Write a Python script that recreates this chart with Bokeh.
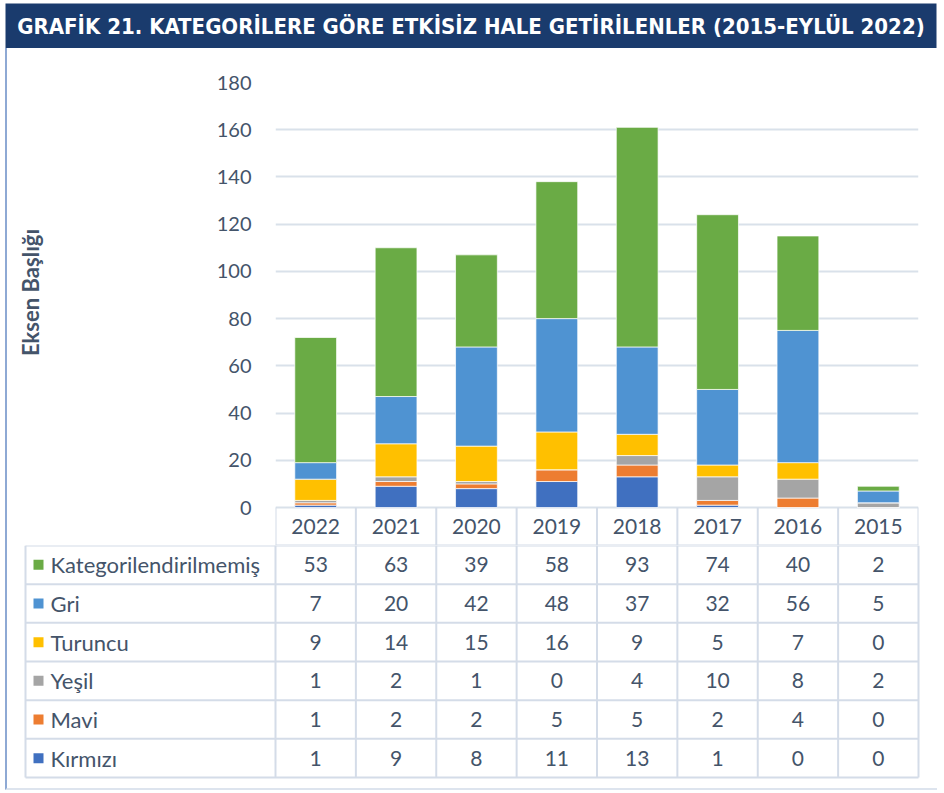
import math
from bokeh.plotting import figure
from bokeh.models import ColumnDataSource, Range1d, FactorRange, FixedTicker, Spacer
from bokeh.layouts import column, row
from bokeh.core.properties import value
from bokeh.embed import file_html
from bokeh.resources import INLINE

# ---------------- data ----------------
title_text = "GRAFİK 21. KATEGORİLERE GÖRE ETKİSİZ HALE GETİRİLENLER (2015-EYLÜL 2022)"
y_axis_title = "Eksen Başlığı"
years = ["2022", "2021", "2020", "2019", "2018", "2017", "2016", "2015"]
series_names = ["Kategorilendirilmemiş", "Gri", "Turuncu", "Yeşil", "Mavi", "Kırmızı"]
kategorilendirilmemis = [53, 63, 39, 58, 93, 74, 40, 2]
gri = [7, 20, 42, 48, 37, 32, 56, 5]
turuncu = [9, 14, 15, 16, 9, 5, 7, 0]
yesil = [1, 2, 1, 0, 4, 10, 8, 2]
mavi = [1, 2, 2, 5, 5, 2, 4, 0]
kirmizi = [1, 9, 8, 11, 13, 1, 0, 0]
y_ticks = [0, 20, 40, 60, 80, 100, 120, 140, 160, 180]

# ---------------- styles ----------------
NAVY = "#1a3b6d"
TXT = "#44546a"
FONT = "Lato"
GRID = "#d9e1ea"
TABLE_LINE = "#d4dce8"
series_keys = ["kategorilendirilmemis", "gri", "turuncu", "yesil", "mavi", "kirmizi"]
series_values = [kategorilendirilmemis, gri, turuncu, yesil, mavi, kirmizi]
series_colors = ["#6aab45", "#4f93d2", "#ffc000", "#a5a5a5", "#ed7d31", "#4070c0"]

# ---------------- title bar ----------------
tf = figure(width=940, height=48, x_range=Range1d(0, 1), y_range=Range1d(0, 1),
            x_axis_location=None, y_axis_location=None,
            min_border_left=5, min_border_right=4, min_border_top=3, min_border_bottom=0,
            output_backend="svg", toolbar_location=None)
tf.frame_align = False
tf.grid.visible = False
tf.outline_line_color = None
tf.background_fill_color = NAVY
tf.border_fill_color = "white"
tf.text(x=[0.5], y=[0.5], text=[title_text], text_align="center", text_baseline="middle",
        text_color="white", text_font=value("DejaVu Sans Condensed"), text_font_style="bold",
        text_font_size="22px")

# ---------------- chart ----------------
LABEL_W = 40
FRAME_LEFT = 268
FRAME_RIGHT_PAD = 19
CHART_W = 930
FRAME_W = CHART_W - FRAME_LEFT - FRAME_RIGHT_PAD
PX_PER_UNIT = 425 / 180
HEADER_H = 38
CHART_H = 34 + 425 + HEADER_H
Y_MIN = -HEADER_H / PX_PER_UNIT
ncol = len(years)

# y-axis title panel
lf = figure(width=LABEL_W, height=CHART_H, x_range=Range1d(0, LABEL_W), y_range=Range1d(CHART_H, 0),
            x_axis_location=None, y_axis_location=None, min_border=0,
            output_backend="svg", toolbar_location=None)
lf.frame_align = False
lf.grid.visible = False
lf.outline_line_color = None
lf.text(x=[23], y=[244], text=[y_axis_title], angle=math.pi / 2, text_align="center",
        text_baseline="middle", text_font=value(FONT), text_font_size="22px",
        text_font_style="bold", text_color=TXT)

src_data = {"year": years}
for k, v in zip(series_keys, series_values):
    src_data[k] = v
src = ColumnDataSource(src_data)

cf = figure(width=CHART_W - LABEL_W, height=CHART_H, x_range=FactorRange(factors=years),
            y_range=Range1d(Y_MIN, 180),
            x_axis_location=None, min_border_left=FRAME_LEFT - LABEL_W,
            min_border_right=FRAME_RIGHT_PAD, min_border_top=34, min_border_bottom=0,
            output_backend="svg", toolbar_location=None)
cf.frame_align = False
cf.outline_line_color = None
cf.xgrid.visible = False
cf.ygrid.grid_line_color = GRID
cf.ygrid.grid_line_width = 2
ya = cf.yaxis[0]
ya.ticker = FixedTicker(ticks=y_ticks)
ya.axis_line_color = None
ya.major_tick_line_color = None
ya.minor_tick_line_color = None
ya.major_label_text_font = FONT
ya.major_label_text_font_size = "20px"
ya.major_label_text_color = TXT
ya.major_label_standoff = 18

stack_order = series_keys[::-1]
color_order = series_colors[::-1]
cf.vbar_stack(stack_order, x="year", width=0.52, fill_color=color_order,
              line_color="white", line_alpha=0.7, line_width=1, source=src)

# header row of the table (years) inside the chart frame, below the zero line
bounds = [(y, -0.5) for y in years] + [(years[-1], 0.5)]
cf.segment(x0=bounds, y0=[Y_MIN] * len(bounds), x1=bounds, y1=[0] * len(bounds),
           line_color=TABLE_LINE, line_width=2)
cf.segment(x0=[bounds[0]], y0=[Y_MIN], x1=[bounds[-1]], y1=[Y_MIN],
           line_color=TABLE_LINE, line_width=2)
cf.text(x=years, y=[Y_MIN / 2] * ncol, text=years, text_align="center", text_baseline="middle",
        text_font=value(FONT), text_font_size="21px", text_color=TXT)

# ---------------- table ----------------
COLW = FRAME_W / ncol
ROW_H = 232 / len(series_names)
TABLE_H = 243
n_rows = len(series_names)
x0 = -FRAME_LEFT / COLW
x1 = (CHART_W - FRAME_LEFT) / COLW
y_bottom = TABLE_H / ROW_H


def px(local_px):
    return (local_px - FRAME_LEFT) / COLW


tb = figure(width=CHART_W, height=TABLE_H, x_range=Range1d(x0, x1), y_range=Range1d(y_bottom, 0),
            x_axis_location=None, y_axis_location=None, min_border=0,
            output_backend="svg", toolbar_location=None)
tb.frame_align = False
tb.grid.visible = False
tb.outline_line_color = None

L = px(18)
hx0, hx1, hy0, hy1 = [], [], [], []
for r in range(n_rows + 1):
    hx0.append(L)
    hx1.append(ncol)
    hy0.append(r)
    hy1.append(r)
for c in range(ncol + 1):
    hx0.append(c)
    hx1.append(c)
    hy0.append(0)
    hy1.append(n_rows)
hx0.append(L); hx1.append(L); hy0.append(0); hy1.append(n_rows)
tb.segment(x0=hx0, y0=hy0, x1=hx1, y1=hy1, line_color=TABLE_LINE, line_width=2)

cx, cy, ct = [], [], []
for r, vals in enumerate(series_values):
    for c, v in enumerate(vals):
        cx.append(c + 0.5)
        cy.append(r + 0.5)
        ct.append(str(v))
tb.text(x=cx, y=cy, text=ct, text_align="center", text_baseline="middle",
        text_font=value(FONT), text_font_size="21px", text_color=TXT)
ry = [r + 0.5 for r in range(n_rows)]
tb.scatter(x=[px(31)] * n_rows, y=ry, marker="square", size=10,
           fill_color=series_colors, line_color=None)
tb.text(x=[px(43)] * n_rows, y=ry, text=series_names, text_align="left",
        text_baseline="middle", text_font=value(FONT), text_font_size="22px", text_color=TXT)

body = column(row(lf, cf), tb,
              styles={"border-left": "2px solid #8ea9d4", "border-bottom": "2px solid #dde4ee"})
layout = column(tf, row(Spacer(width=5, height=10), body))

open("out.html", "w").write(file_html(layout, INLINE))
